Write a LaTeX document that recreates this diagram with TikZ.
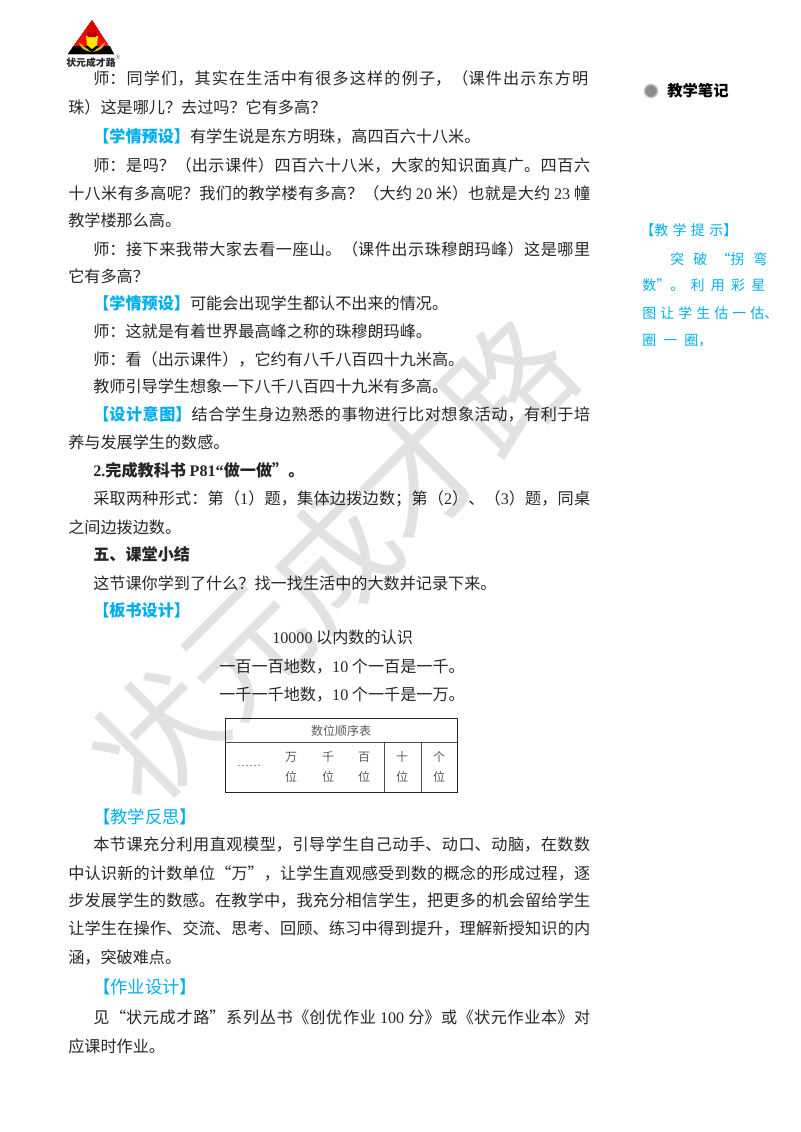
\documentclass[tikz,border=0pt]{standalone}
\usepackage{fontspec}
\usepackage{xcolor}
\setmainfont{Liberation Serif}
\newfontfamily\cnfont{Noto Sans CJK SC}
\newfontfamily\ltfont{Liberation Serif}
\usetikzlibrary{calc}
\definecolor{tipblue}{HTML}{00AEEF}
\definecolor{bodyink}{HTML}{262626}
\definecolor{markgray}{HTML}{E2E2E2}
\XeTeXlinebreaklocale "zh"
\XeTeXlinebreakskip=0pt plus 2pt minus .5pt
\newcommand{\lt}[1]{{\ltfont #1}}
\newcommand{\tagblue}[1]{{\color{tipblue}\bfseries #1}}
\tikzset{
  bodyline/.style={anchor=west, inner sep=0pt, text=bodyink, font=\cnfont\fontsize{12.1}{14}\selectfont},
  fullline/.style={bodyline, text width=#1*0.75pt, align=justify, execute at begin node={\parfillskip=0pt\parindent=0pt\relax}},
  headline/.style={anchor=west, inner sep=0pt, text=tipblue, font=\cnfont\fontsize{13}{15}\selectfont},
  noteline/.style={anchor=west, inner sep=0pt, text=tipblue, font=\cnfont\fontsize{10.5}{12}\selectfont, text width=#1*0.75pt, align=justify, execute at begin node={\XeTeXlinebreakskip=0pt plus 14pt\parfillskip=0pt\parindent=0pt\relax}},
  cellsmall/.style={inner sep=0pt, text=black!65, font=\cnfont\fontsize{9}{10}\selectfont},
}
\begin{document}
\begin{tikzpicture}[x=0.75pt,y=-0.75pt]
      \useasboundingbox (0,0) rectangle (800,1132);
      % watermark
      \node (mark) at (333,561) [rotate=45, inner sep=0pt, text=markgray, font=\cnfont\fontsize{93}{100}\selectfont] {状元成才路};
      % logo
      \coordinate (apex) at (92,20);
      \coordinate (baseL) at (68,54);
      \coordinate (baseR) at (114,54);
      \fill[top color=red!85!black, bottom color=red!80!orange] (apex) -- (baseL) -- (baseR) -- cycle;
      \fill[black] (73.6,46) -- (110,46) -- (baseR) -- (baseL) -- cycle;
      \fill[yellow!90!orange] (86,36) -- (98,36) -- (97,45) -- (92,49) -- (87,45) -- cycle;
      \fill[red!70!black] (87,33) -- (89,31) -- (92,34) -- (95,31) -- (97,33) -- (96,37) -- (88,37) -- cycle;
      \fill[yellow!70!orange!80!black] (79,42) .. controls (80,49) and (86,51) .. (91,52) .. controls (86,47) and (82,46) .. (79,42);
      \fill[yellow!70!orange!80!black] (105,42) .. controls (104,49) and (98,51) .. (93,52) .. controls (98,47) and (102,46) .. (105,42);
      \node (logotext) at (91,63) [inner sep=0pt, text=black!85, font=\cnfont\bfseries\fontsize{7.4}{9}\selectfont] {状元成才路};
      \node (logoreg) at (118,57) [inner sep=0pt, text=black!60, font=\ltfont\fontsize{5}{5}\selectfont] {®};
      % body
      \node (l1) at (93,78) [fullline=495] {师：同学们，其实在生活中有很多这样的例子，（课件出示东方明};
      \node (l2) at (68,107) [bodyline] {珠）这是哪儿？去过吗？它有多高？};
      \node (l3) at (93,136) [bodyline] {\tagblue{【学情预设】}有学生说是东方明珠，高四百六十八米。};
      \node (l4) at (93,165) [fullline=497] {师：是吗？（出示课件）四百六十八米，大家的知识面真广。四百六};
      \node (l5) at (68,193) [fullline=522] {十八米有多高呢？我们的教学楼有多高？（大约 \lt{20} 米）也就是大约 \lt{23} 幢};
      \node (l6) at (68,220) [bodyline] {教学楼那么高。};
      \node (l7) at (93,249) [fullline=497] {师：接下来我带大家去看一座山。（课件出示珠穆朗玛峰）这是哪里};
      \node (l8) at (68,276) [bodyline] {它有多高？};
      \node (l9) at (93,303) [bodyline] {\tagblue{【学情预设】}可能会出现学生都认不出来的情况。};
      \node (l10) at (93,331) [bodyline] {师：这就是有着世界最高峰之称的珠穆朗玛峰。};
      \node (l11) at (93,359) [bodyline] {师：看（出示课件），它约有八千八百四十九米高。};
      \node (l12) at (93,386) [bodyline] {教师引导学生想象一下八千八百四十九米有多高。};
      \node (l13) at (93,414) [fullline=497] {\tagblue{【设计意图】}结合学生身边熟悉的事物进行比对想象活动，有利于培};
      \node (l14) at (68,442) [bodyline] {养与发展学生的数感。};
      \node (l15) at (93,470) [bodyline] {\bfseries \lt{\bfseries 2.}完成教科书 \lt{\bfseries P81“}做一做”。};
      \node (l16) at (93,499) [fullline=497] {采取两种形式：第（\lt{1}）题，集体边拨边数；第（\lt{2}）、（\lt{3}）题，同桌};
      \node (l17) at (68,527) [bodyline] {之间边拨边数。};
      \node (l18) at (93,554) [bodyline] {\bfseries 五、课堂小结};
      \node (l19) at (93,583) [bodyline] {这节课你学到了什么？找一找生活中的大数并记录下来。};
      \node (l20) at (93,610) [bodyline] {\tagblue{【板书设计】}};
      \node (l21) at (272,637) [bodyline] {\lt{10000} 以内数的认识};
      \node (l22) at (219,667) [bodyline] {一百一百地数，\lt{10} 个一百是一千。};
      \node (l23) at (219,695) [bodyline] {一千一千地数，\lt{10} 个一千是一万。};
      % table
      \coordinate (tabTL) at (225,718);
      \coordinate (tabBR) at (457,792);
      \draw[semithick, black!85] (tabTL) rectangle (tabBR);
      \draw[black!70] (225,742) -- (457,742) (384,742) -- (384,792) (421,742) -- (421,792);
      \node (tabtitle) at (341,731) [cellsmall] {数位顺序表};
      \node (cdots) at (249,766) [cellsmall] {\lt{……}};
      \node (c1a) at (291,757) [cellsmall] {万};
      \node (c1b) at (291,777) [cellsmall] {位};
      \node (c2a) at (328,757) [cellsmall] {千};
      \node (c2b) at (328,777) [cellsmall] {位};
      \node (c3a) at (364,757) [cellsmall] {百};
      \node (c3b) at (364,777) [cellsmall] {位};
      \node (c4a) at (402,757) [cellsmall] {十};
      \node (c4b) at (402,777) [cellsmall] {位};
      \node (c5a) at (439,757) [cellsmall] {个};
      \node (c5b) at (439,777) [cellsmall] {位};
      % reflection
      \node (h1) at (93,817) [headline] {【教学反思】};
      \node (r1) at (93,845) [fullline=497] {本节课充分利用直观模型，引导学生自己动手、动口、动脑，在数数};
      \node (r2) at (68,873) [fullline=522] {中认识新的计数单位“万”，让学生直观感受到数的概念的形成过程，逐};
      \node (r3) at (68,901) [fullline=522] {步发展学生的数感。在教学中，我充分相信学生，把更多的机会留给学生};
      \node (r4) at (68,929) [fullline=522] {让学生在操作、交流、思考、回顾、练习中得到提升，理解新授知识的内};
      \node (r5) at (68,958) [bodyline] {涵，突破难点。};
      \node (h2) at (93,987) [headline] {【作业设计】};
      \node (r6) at (93,1017) [fullline=497] {见“状元成才路”系列丛书《创优作业 \lt{100} 分》或《状元作业本》对};
      \node (r7) at (68,1046) [bodyline] {应课时作业。};
      % margin notes
      \node (dot) at (651,91) [circle, minimum size=10pt, inner sep=0pt, fill=black!45, draw=black!20, line width=1pt] {};
      \node (notehead) at (667,91) [anchor=west, inner sep=0pt, font=\cnfont\bfseries\fontsize{11.5}{14}\selectfont] {教学笔记};
      \node (n1) at (640,230) [noteline=97] {【教学提示】};
      \node (n2) at (670,259) [noteline=97] {突破“拐弯};
      \node (n3) at (642,285) [noteline=123] {数”。利用彩星};
      \node (n4) at (642,313) [noteline=136] {图让学生估一估、};
      \node (n5) at (642,341) [noteline=70] {圈一圈，};
\end{tikzpicture}
\end{document}
